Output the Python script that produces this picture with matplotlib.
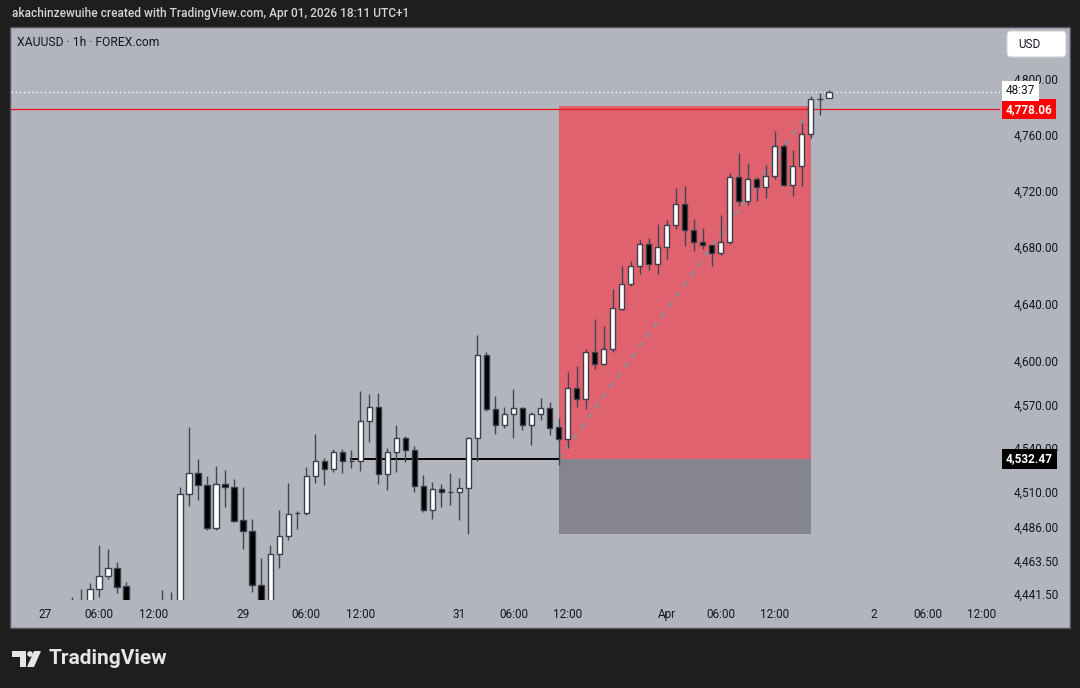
import matplotlib
matplotlib.use("Agg")
import matplotlib.pyplot as plt
import numpy as np
from matplotlib.patches import Rectangle, FancyBboxPatch, Polygon, Circle
from matplotlib.transforms import blended_transform_factory, IdentityTransform

# ---------------- data ----------------
first_bar = 3  # bar index of first candle (bar 0 = Mar 27 00:00, 1h bars, market gaps skipped)
opens = [4428, 4433, 4432, 4444.4, 4453.2, 4458.6, 4446.4, 4430, 4425, 4428,
         4426, 4432, 4430, 4508.6, 4522.9, 4514.7, 4485.5, 4515.4, 4513.4, 4490.9,
         4483.5, 4447.1, 4434, 4468.0, 4480.1, 4495.5, 4495.7, 4520.9, 4531.1, 4525.6,
         4537.2, 4531.0, 4531.1, 4558.5, 4568.1, 4522.2, 4537.2, 4546.8, 4538.6, 4514.0,
         4497.7, 4512.0, 4509.8, 4509.9, 4512.7, 4546.8, 4604.2, 4566.7, 4555.7, 4563.3,
         4567.4, 4555.7, 4563.3, 4567.4, 4554.3, 4546.1, 4581.3, 4573.7, 4606.2, 4597.9,
         4608.3, 4636.2, 4653.8, 4666.4, 4682.0, 4667.8, 4679.9, 4695.4, 4710.3, 4691.9,
         4683.4, 4681.3, 4675.6, 4683.4, 4729.5, 4712.4, 4728.1, 4722.4, 4730.2, 4751.7,
         4723.8, 4737.4, 4760.3, 4785.5, 4786.2]
highs = [4439.0, 4444.4, 4448.5, 4474.0, 4471.3, 4462.6, 4449.1, 4433, 4432, 4434,
         4443.7, 4442.4, 4513.4, 4554.4, 4532.5, 4520.9, 4527.7, 4525.0, 4518.8, 4513.4,
         4491.6, 4465.3, 4474.0, 4497.7, 4516.1, 4497.0, 4527.0, 4549.6, 4533.2, 4539.3,
         4539.3, 4538.6, 4579.2, 4577.1, 4577.8, 4540.0, 4555.7, 4548.2, 4541.4, 4521.5,
         4516.8, 4515.4, 4522.9, 4519.5, 4547.5, 4618.1, 4606.2, 4575.7, 4568.1, 4580.6,
         4568.1, 4564.6, 4574.4, 4571.7, 4560.5, 4592.4, 4596.5, 4608.3, 4629.3, 4624.4,
         4650.3, 4666.4, 4670.0, 4684.8, 4686.2, 4696.1, 4698.9, 4721.7, 4723.1, 4699.6,
         4693.3, 4681.5, 4702.5, 4732.4, 4746.7, 4739.6, 4729.5, 4738.1, 4762.5, 4753.1,
         4748.8, 4768.2, 4787.7, 4789.9, 4792.0]
lows = [4424, 4427, 4428, 4439.0, 4451.2, 4441.7, 4425, 4420, 4418, 4420,
        4421, 4424, 4427, 4500.4, 4504.5, 4484.2, 4484.2, 4499.7, 4489.6, 4471.3,
        4442.4, 4430, 4431, 4458.6, 4477.4, 4484.9, 4494.5, 4516.1, 4514.7, 4523.6,
        4522.9, 4526.3, 4524.3, 4544.1, 4515.4, 4511.3, 4523.6, 4530.4, 4509.9, 4496.3,
        4491.6, 4499.7, 4501.1, 4490.9, 4481.5, 4531.1, 4565.3, 4549.6, 4554.0, 4546.8,
        4552.3, 4542.0, 4559.2, 4548.9, 4528.4, 4540.0, 4568.1, 4566.7, 4594.5, 4597.0,
        4606.2, 4635.5, 4652.4, 4660.8, 4663.6, 4660.8, 4671.4, 4692.6, 4680.6, 4677.0,
        4678.4, 4666.4, 4674.2, 4682.0, 4708.8, 4709.5, 4712.4, 4714.6, 4728.1, 4723.0,
        4716.0, 4723.1, 4757.5, 4774.0, 4786.0]
closes = [4433, 4435, 4444.4, 4453.2, 4458.6, 4445.7, 4430, 4425, 4428, 4426,
          4432, 4430, 4508.6, 4522.9, 4514.7, 4485.5, 4515.4, 4513.4, 4490.3, 4483.5,
          4447.1, 4434, 4468.0, 4480.1, 4495.0, 4495.9, 4520.9, 4531.1, 4525.6, 4537.2,
          4531.1, 4531.2, 4558.5, 4568.1, 4522.2, 4537.2, 4546.8, 4538.6, 4514.0, 4497.7,
          4512.0, 4509.9, 4510.1, 4512.7, 4546.8, 4604.2, 4566.7, 4555.7, 4563.3, 4567.4,
          4555.7, 4563.3, 4567.4, 4553.6, 4546.1, 4581.3, 4573.7, 4606.2, 4597.9, 4608.3,
          4636.9, 4653.8, 4666.4, 4682.0, 4667.8, 4679.9, 4695.4, 4710.3, 4691.9, 4683.4,
          4681.3, 4675.6, 4683.4, 4729.5, 4712.4, 4728.1, 4722.4, 4730.2, 4751.7, 4723.8,
          4737.4, 4760.3, 4785.5, 4785.7, 4790.5]

time_tick_bars = [0, 6, 12, 22, 29, 35, 46, 52, 58, 69, 75, 81, 92, 98, 104]
time_tick_labels = ["27", "06:00", "12:00", "29", "06:00", "12:00", "31", "06:00",
                    "12:00", "Apr", "06:00", "12:00", "2", "06:00", "12:00"]
price_ticks = [4441.5, 4463.5, 4486, 4510, 4540, 4570, 4600, 4640, 4680, 4720, 4760, 4800]

entry_price = 4532.47
target_price = 4780.5
stop_price = 4481.5
pos_start_bar, pos_end_bar = 57, 85
entry_line_start_bar = 34
marked_price = 4778.06
countdown = "48:37"

# ---------------- figure ----------------
W, H = 1080, 688
plt.rcParams['font.family'] = ['Roboto', 'DejaVu Sans']
fig = plt.figure(figsize=(W / 100, H / 100), dpi=100, facecolor="#1e1e1e")

def px(x, y):
    return (x, H - y)

pix = IdentityTransform()
# chart panel
fig.add_artist(Rectangle(px(10, 628), 1060, 601, transform=pix, facecolor="#b2b5be",
                         edgecolor="#4e515b", linewidth=1, zorder=0))

ax = fig.add_axes([11 / W, 88 / H, 989 / W, 572 / H])
ax.set_facecolor("none")
for s in ax.spines.values():
    s.set_visible(False)
ax.set_yscale("log")
ax.set_ylim(4437.0, 4837.1)
ax.set_xlim(-3.77, 106.0)

o = np.array(opens); h = np.array(highs); l = np.array(lows); c = np.array(closes)
x = np.arange(first_bar, first_bar + len(o))
up = c >= o

# position tool
ax.add_patch(Rectangle((pos_start_bar, entry_price), pos_end_bar - pos_start_bar,
                       target_price - entry_price, facecolor="#e0626f", edgecolor="none", zorder=1))
ax.add_patch(Rectangle((pos_start_bar, stop_price), pos_end_bar - pos_start_bar,
                       entry_price - stop_price, facecolor="#848590", edgecolor="none", zorder=1))
ax.plot([pos_start_bar, pos_end_bar], [entry_price, marked_price], color="#8d8f99",
        lw=1.5, ls=(0, (3, 3)), zorder=1.5)
ax.plot([entry_line_start_bar, pos_start_bar], [entry_price, entry_price], color="#000000",
        lw=1.4, zorder=1.6)

# horizontal price lines
ax.axhline(marked_price, color="#e8141e", lw=0.9, zorder=1.7)
ax.axhline(c[-1], color="#ffffff", lw=1, ls=(0, (1, 2)), zorder=1.7)

# candles
ax.vlines(x, l, h, color="#434651", lw=1, zorder=2)
body_lo = np.minimum(o, c)
body_h = np.maximum(np.abs(c - o), 0.15)
ax.bar(x, body_h, bottom=body_lo, width=0.6, color=np.where(up, "#ffffff", "#000000"),
       edgecolor="#3d404a", linewidth=1, zorder=3)

# axes ticks
ax.set_xticks(time_tick_bars, time_tick_labels)
ax.tick_params(axis="x", length=0, pad=6, labelsize=8.5, labelcolor="#131722")
ax.yaxis.tick_right()
ax.set_yticks(price_ticks, [f"{v:,.2f}" for v in price_ticks])
ax.minorticks_off()
ax.tick_params(axis="y", length=0, pad=9.5, labelsize=8.5, labelcolor="#131722")

# right-side price labels
bt = blended_transform_factory(ax.transAxes, ax.transData)
xl = (1006 - 11) / 989
ax.text(xl, marked_price, f"{marked_price:,.2f}", transform=bt, ha="left", va="center",
        fontsize=8.5, fontweight="bold", color="white", zorder=10, clip_on=False,
        bbox=dict(boxstyle="square,pad=0.3", fc="#ff0000", ec="none"))
ax.text(xl, c[-1] + 1.0, countdown, transform=bt, ha="left", va="center",
        fontsize=8.5, color="#131722", zorder=10, clip_on=False,
        bbox=dict(boxstyle="square,pad=0.3", fc="#ffffff", ec="none"))
ax.text(xl, entry_price, f"{entry_price:,.2f}", transform=bt, ha="left", va="center",
        fontsize=8.5, fontweight="bold", color="white", zorder=10, clip_on=False,
        bbox=dict(boxstyle="square,pad=0.3", fc="#000000", ec="none"))

# USD button
fig.add_artist(FancyBboxPatch(px(1007, 57), 59, 26, boxstyle="round,pad=0,rounding_size=4",
                              transform=pix, facecolor="white", edgecolor="#d0d0d0", lw=0.8, zorder=5))
fig.text(1018 / W, 1 - 44 / H, "USD", fontsize=8.5, color="#131722", va="center", ha="left", zorder=6)

# header texts
fig.text(12 / W, 1 - 13 / H, "akachinzewuihe created with TradingView.com, Apr 01, 2026 18:11 UTC+1",
         fontsize=8.6, fontweight="medium", color="#d6d6d6", va="center", ha="left")
fig.text(17 / W, 1 - 42 / H, "XAUUSD · 1h · FOREX.com", fontsize=8.7, color="#131722",
         va="center", ha="left")

# TradingView logo
logo_c = "#e6e6e6"
fig.add_artist(Polygon([px(12, 651), px(26, 651), px(26, 667), px(20, 667), px(20, 657), px(12, 657)],
                       closed=True, transform=pix, facecolor=logo_c, edgecolor="none"))
fig.add_artist(Circle(px(30, 654), 2.8, transform=pix, facecolor=logo_c, edgecolor="none"))
fig.add_artist(Polygon([px(34, 651), px(41, 651), px(34, 667), px(27, 667)], closed=True,
                       transform=pix, facecolor=logo_c, edgecolor="none"))
fig.text(49 / W, 1 - 658 / H, "TradingView", fontsize=15, fontweight="bold", color=logo_c,
         va="center", ha="left")

fig.savefig("out.png", dpi=100, facecolor=fig.get_facecolor())
